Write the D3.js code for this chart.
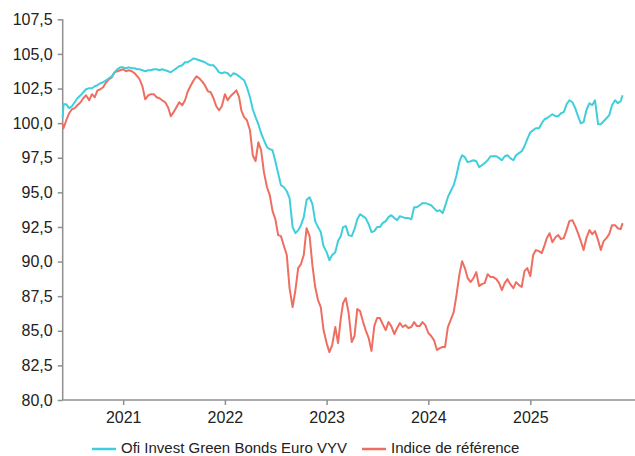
<!DOCTYPE html>
<html>
<head>
<meta charset="utf-8">
<script src="https://cdn.jsdelivr.net/npm/d3@7"></script>
<style>
  html, body { margin: 0; padding: 0; background: #fff; }
  svg { display: block; font-family: "Liberation Sans", Arial, sans-serif; }
</style>
</head>
<body>
<svg id="chart" width="635" height="456"></svg>
<script>
// Observation dates (roughly every 10 days)
const dates = [
  "2020-05-29",
  "2020-06-01","2020-06-11","2020-06-21","2020-07-01","2020-07-11","2020-07-21",
  "2020-08-01","2020-08-11","2020-08-21","2020-09-01","2020-09-11","2020-09-21",
  "2020-10-01","2020-10-11","2020-10-21","2020-11-01","2020-11-11","2020-11-21",
  "2020-12-01","2020-12-11","2020-12-21",
  "2021-01-01","2021-01-11","2021-01-21","2021-02-01","2021-02-11","2021-02-21",
  "2021-03-01","2021-03-11","2021-03-21","2021-04-01","2021-04-11","2021-04-21",
  "2021-05-01","2021-05-11","2021-05-21","2021-06-01","2021-06-11","2021-06-21",
  "2021-07-01","2021-07-11","2021-07-21","2021-08-01","2021-08-11","2021-08-21",
  "2021-09-01","2021-09-11","2021-09-21","2021-10-01","2021-10-11","2021-10-21",
  "2021-11-01","2021-11-11","2021-11-21","2021-12-01","2021-12-11","2021-12-21",
  "2022-01-01","2022-01-11","2022-01-21","2022-02-01","2022-02-11","2022-02-21",
  "2022-03-01","2022-03-11","2022-03-21","2022-04-01","2022-04-11","2022-04-21",
  "2022-05-01","2022-05-11","2022-05-21","2022-06-01","2022-06-11","2022-06-21",
  "2022-07-01","2022-07-11","2022-07-21","2022-08-01","2022-08-11","2022-08-21",
  "2022-09-01","2022-09-11","2022-09-21","2022-10-01","2022-10-11","2022-10-21",
  "2022-11-01","2022-11-11","2022-11-21","2022-12-01","2022-12-11","2022-12-21",
  "2023-01-01","2023-01-11","2023-01-21","2023-02-01","2023-02-11","2023-02-21",
  "2023-03-01","2023-03-11","2023-03-21","2023-04-01","2023-04-11","2023-04-21",
  "2023-05-01","2023-05-11","2023-05-21","2023-06-01","2023-06-11","2023-06-21",
  "2023-07-01","2023-07-11","2023-07-21","2023-08-01","2023-08-11","2023-08-21",
  "2023-09-01","2023-09-11","2023-09-21","2023-10-01","2023-10-11","2023-10-21",
  "2023-11-01","2023-11-11","2023-11-21","2023-12-01","2023-12-11","2023-12-21",
  "2024-01-01","2024-01-11","2024-01-21","2024-02-01","2024-02-11","2024-02-21",
  "2024-03-01","2024-03-11","2024-03-21","2024-04-01","2024-04-11","2024-04-21",
  "2024-05-01","2024-05-11","2024-05-21","2024-06-01","2024-06-11","2024-06-21",
  "2024-07-01","2024-07-11","2024-07-21","2024-08-01","2024-08-11","2024-08-21",
  "2024-09-01","2024-09-11","2024-09-21","2024-10-01","2024-10-11","2024-10-21",
  "2024-11-01","2024-11-11","2024-11-21","2024-12-01","2024-12-11","2024-12-21",
  "2025-01-01","2025-01-11","2025-01-21","2025-02-01","2025-02-11","2025-02-21",
  "2025-03-01","2025-03-11","2025-03-21","2025-04-01","2025-04-11","2025-04-21",
  "2025-05-01","2025-05-11","2025-05-21","2025-06-01","2025-06-11","2025-06-21",
  "2025-07-01","2025-07-11","2025-07-21","2025-08-01","2025-08-11","2025-08-21",
  "2025-09-01","2025-09-11","2025-09-21","2025-10-01","2025-10-11","2025-10-21",
  "2025-11-01","2025-11-11","2025-11-21","2025-11-28"
];

// Ofi Invest Green Bonds Euro VYV (base 100)
const fundValues = [
  100.40,
  101.36,101.36,101.08,101.22,101.51,101.80,
  102.01,102.23,102.45,102.52,102.52,102.66,
  102.74,102.88,102.95,103.10,103.24,103.38,
  103.67,103.89,104.03,
  104.03,103.96,104.03,103.96,103.96,103.89,
  103.89,103.82,103.75,103.82,103.82,103.89,
  103.89,103.82,103.89,103.82,103.75,103.67,
  103.82,103.96,104.11,104.18,104.40,104.40,
  104.54,104.68,104.61,104.54,104.47,104.40,
  104.25,104.18,104.18,103.96,103.67,103.60,
  103.67,103.60,103.38,103.60,103.53,103.38,
  103.24,103.10,102.59,101.87,101.00,100.43,
  99.92,99.27,98.77,98.26,98.12,98.04,
  97.25,96.38,95.52,95.37,95.08,94.58,
  92.49,92.05,92.27,92.63,93.21,94.44,
  94.65,94.15,92.92,92.49,92.13,91.11,
  90.68,90.10,90.47,90.68,91.48,91.84,
  92.49,92.56,91.91,91.84,92.34,93.06,
  93.42,93.28,93.14,92.70,92.13,92.20,
  92.49,92.49,92.78,92.92,93.21,93.35,
  93.14,92.99,93.28,93.21,93.14,93.14,
  93.06,93.93,93.93,94.07,94.22,94.22,
  94.15,94.07,93.86,93.64,93.71,93.50,
  94.00,94.65,95.08,95.52,96.24,97.18,
  97.68,97.54,97.18,97.25,97.32,97.25,
  96.82,96.96,97.11,97.32,97.61,97.61,
  97.61,97.47,97.32,97.61,97.68,97.47,
  97.32,97.68,97.83,97.97,98.33,98.84,
  99.34,99.49,99.63,99.63,99.99,100.28,
  100.35,100.50,100.64,100.50,100.50,100.71,
  100.79,101.36,101.65,101.51,101.08,100.50,
  99.99,100.07,100.93,101.44,101.29,101.65,
  99.92,99.92,100.14,100.35,100.57,101.29,
  101.65,101.44,101.58,102.01
];

// Indice de référence (base 100)
const benchValues = [
  99.92,
  99.63,100.21,100.71,101.00,101.08,101.29,
  101.51,101.80,102.01,101.65,102.09,101.87,
  102.37,102.45,102.59,102.95,103.17,103.31,
  103.67,103.75,103.82,
  103.89,103.75,103.82,103.75,103.60,103.38,
  103.17,102.66,101.72,102.01,102.09,102.09,
  101.87,101.80,101.65,101.51,101.15,100.50,
  100.79,101.15,101.51,101.29,101.65,102.30,
  102.74,103.10,103.38,103.24,103.02,102.74,
  102.30,102.23,101.80,101.22,100.93,101.22,
  102.09,101.65,101.94,102.16,102.37,101.87,
  100.93,100.43,100.21,99.49,97.68,97.25,
  98.62,98.04,96.46,95.37,94.80,93.64,
  93.06,91.91,91.84,91.11,90.47,88.08,
  86.71,87.94,89.53,89.82,90.47,92.41,
  91.84,89.74,88.16,87.22,86.71,85.05,
  84.11,83.46,83.97,85.27,84.11,85.92,
  87.00,87.36,86.28,84.19,84.62,86.57,
  86.42,85.70,85.05,84.47,83.54,85.34,
  85.92,85.92,85.49,85.05,85.63,85.34,
  84.76,85.20,85.56,85.27,85.41,85.20,
  85.27,85.63,85.34,85.34,85.63,85.41,
  84.84,84.62,84.33,83.61,83.75,83.83,
  83.83,85.27,85.77,86.35,87.58,89.02,
  90.03,89.53,88.81,88.52,88.81,89.24,
  88.23,88.37,88.44,89.09,88.88,88.88,
  88.73,88.44,87.94,88.44,88.73,88.37,
  88.08,88.52,88.30,88.16,89.31,89.53,
  88.95,90.47,90.83,90.75,90.61,91.19,
  91.69,92.05,91.40,91.76,91.91,91.62,
  91.69,92.27,92.92,92.99,92.56,92.05,
  91.48,90.83,91.69,92.27,91.98,92.20,
  91.55,90.83,91.48,91.69,91.98,92.63,
  92.63,92.41,92.34,92.78
];

const yTicks = [80, 82.5, 85, 87.5, 90, 92.5, 95, 97.5, 100, 102.5, 105, 107.5];
const xTickYears = [2021, 2022, 2023, 2024, 2025];
const seriesNames = ["Ofi Invest Green Bonds Euro VYV", "Indice de référence"];
const seriesColors = ["#3fcfdc", "#ef6e62"];

const parse = d3.timeParse("%Y-%m-%d");
const dateObjs = dates.map(parse);

const svg = d3.select("#chart");
const W = 635;
const plotLeft = 62.7, plotRight = 622.6, plotTop = 19.3, plotBottom = 400;

const x = d3.scaleTime()
  .domain(d3.extent(dateObjs))
  .range([plotLeft, plotRight]);

const y = d3.scaleLinear()
  .domain([80, 107.5])
  .range([plotBottom, plotTop]);

const axisColor = "#8f8f8f";
const textColor = "#222";
const fmt = v => d3.format(".1f")(v).replace(".", ",");

// Y axis
const yAxis = svg.append("g")
  .attr("transform", `translate(${plotLeft},0)`)
  .call(d3.axisLeft(y).tickValues(yTicks).tickFormat(fmt).tickSize(5).tickPadding(5));
yAxis.select(".domain").remove();
yAxis.selectAll(".tick line").attr("stroke", axisColor).attr("stroke-width", 1.5);
yAxis.selectAll(".tick text")
  .attr("fill", textColor)
  .style("font-size", "16px")
  .style("font-family", "'Liberation Sans', Arial, sans-serif");

// X axis
const xAxis = svg.append("g")
  .attr("transform", `translate(0,${plotBottom})`)
  .call(d3.axisBottom(x)
    .tickValues(xTickYears.map(yr => new Date(yr, 0, 1)))
    .tickFormat(d3.timeFormat("%Y"))
    .tickSize(5).tickPadding(7));
xAxis.select(".domain").remove();
xAxis.selectAll(".tick line").attr("stroke", axisColor).attr("stroke-width", 1.5);
xAxis.selectAll(".tick text")
  .attr("fill", textColor)
  .style("font-size", "16px")
  .style("font-family", "'Liberation Sans', Arial, sans-serif");

// Axis lines
svg.append("line")
  .attr("x1", plotLeft).attr("x2", plotLeft)
  .attr("y1", y(107.5)).attr("y2", plotBottom)
  .attr("stroke", axisColor).attr("stroke-width", 1.5);
svg.append("line")
  .attr("x1", plotLeft).attr("x2", W)
  .attr("y1", plotBottom).attr("y2", plotBottom)
  .attr("stroke", axisColor).attr("stroke-width", 1.5);

// Series lines
const line = d3.line()
  .x((d, i) => x(dateObjs[i]))
  .y(d => y(d));

svg.append("path")
  .datum(benchValues)
  .attr("fill", "none")
  .attr("stroke", seriesColors[1])
  .attr("stroke-width", 2)
  .attr("stroke-linejoin", "round")
  .attr("d", line);

svg.append("path")
  .datum(fundValues)
  .attr("fill", "none")
  .attr("stroke", seriesColors[0])
  .attr("stroke-width", 2)
  .attr("stroke-linejoin", "round")
  .attr("d", line);

// Legend
const legendY = 449;
const legendItems = [
  { name: seriesNames[0], color: seriesColors[0], x0: 92 },
  { name: seriesNames[1], color: seriesColors[1], x0: 362 }
];
const lg = svg.append("g");
legendItems.forEach(it => {
  lg.append("line")
    .attr("x1", it.x0).attr("x2", it.x0 + 24)
    .attr("y1", legendY).attr("y2", legendY)
    .attr("stroke", it.color).attr("stroke-width", 2.5);
  lg.append("text")
    .attr("x", it.x0 + 29)
    .attr("y", 452.5)
    .attr("fill", textColor)
    .style("font-size", "15px")
    .text(it.name);
});
</script>
</body>
</html>
